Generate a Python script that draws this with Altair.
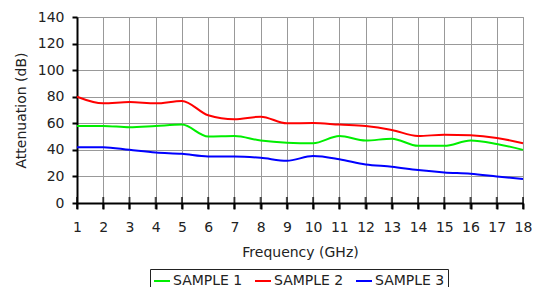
import altair as alt
import pandas as pd

freq = list(range(1, 19))
sample1 = [58, 58, 57, 58, 59, 50, 50.4, 47, 45.4, 45, 50.4, 47, 48.4, 43, 43, 47, 44.4, 40]
sample2 = [80, 75, 76, 75, 76.8, 66, 63, 65, 60, 60.2, 59, 58, 55, 50.4, 51.4, 51, 49, 45]
sample3 = [42, 42, 40, 38, 37, 35, 35, 34, 31.8, 35.4, 33, 29, 27.3, 24.8, 23, 22, 20, 18]
series = ["SAMPLE 1", "SAMPLE 2", "SAMPLE 3"]
colors = ["#00ee00", "#ff0000", "#0000ff"]
yticks = list(range(0, 141, 20))

rows = []
for name, vals in zip(series, [sample1, sample2, sample3]):
    for f, v in zip(freq, vals):
        rows.append({"freq": f, "att": v, "series": name})
df = pd.DataFrame(rows)
ticks_df = pd.DataFrame({"freq": freq, "att": [0] * len(freq)})

font = "DejaVu Sans"

xscale = alt.Scale(domain=[1, 18], nice=False, zero=False)
yscale = alt.Scale(domain=[0, 140], nice=False)
xaxis = alt.Axis(values=freq, format="d", grid=True, labelOverlap=False)
yaxis = alt.Axis(values=yticks, grid=True, labelOverlap=False)

xenc = alt.X("freq:Q", title="Frequency (GHz)", scale=xscale, axis=xaxis)
yenc = alt.Y("att:Q", title="Attenuation (dB)", scale=yscale, axis=yaxis)

lines = alt.Chart(df).mark_line(interpolate="monotone", strokeWidth=2).encode(
    x=xenc,
    y=yenc,
    color=alt.Color("series:N", scale=alt.Scale(domain=series, range=colors),
                    legend=alt.Legend(title=None, orient="none", legendX=73, legendY=252,
                                      direction="horizontal",
                                      symbolType="stroke", symbolStrokeWidth=2, symbolSize=256,
                                      strokeColor="#222", padding=3, columnPadding=8,
                                      labelFontSize=14, labelFont=font, labelColor="#222",
                                      labelOffset=2)),
)

xticks = alt.Chart(ticks_df).mark_tick(orient="vertical", size=12, thickness=2, color="black").encode(
    x=xenc,
    y=yenc,
)

chart = alt.layer(lines, xticks).properties(
    width=446, height=186, padding={"left": 6, "top": 2, "right": 0, "bottom": 0}
).configure_axis(
    labelFont=font, titleFont=font, labelFontSize=14, titleFontSize=14,
    titleFontWeight="normal", labelColor="#222", titleColor="#222",
    domainColor="black", domainWidth=2, tickColor="black", tickWidth=2,
    gridColor="#999", gridWidth=1,
).configure_axisX(titlePadding=11, labelFlush=False, tickSize=6, labelPadding=11).configure_axisY(
    titlePadding=9, tickSize=5, labelPadding=8
).configure_view(
    stroke="#999", strokeWidth=1
)

chart.save("out.html", embed_options={"renderer": "svg", "actions": False})
